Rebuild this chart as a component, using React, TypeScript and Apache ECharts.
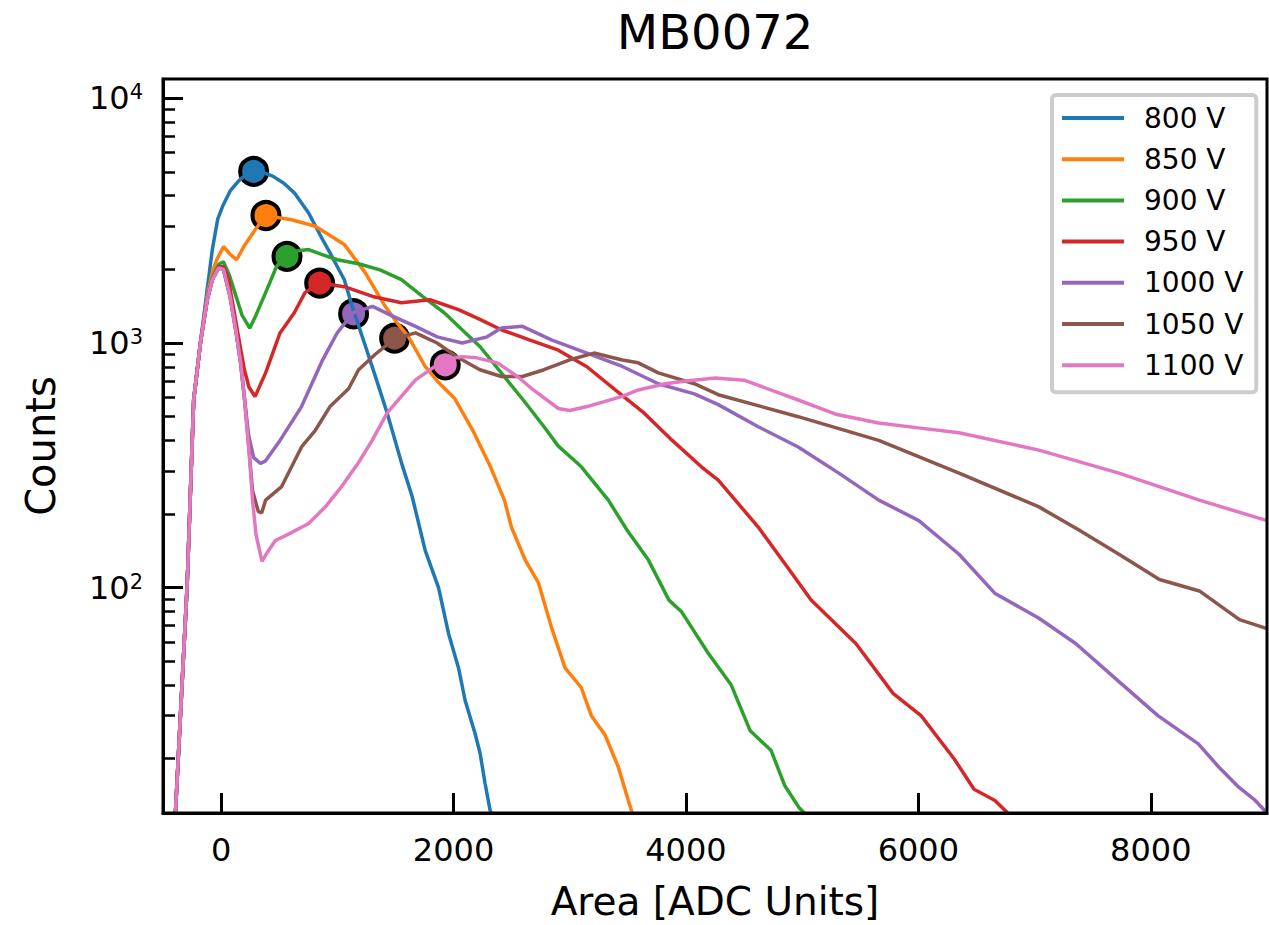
import React, { useEffect, useRef } from "react";
import * as echarts from "echarts";

const FONT = "'DejaVu Sans', sans-serif";

const voltages = ["800 V", "850 V", "900 V", "950 V", "1000 V", "1050 V", "1100 V"];
const colors = ["#1f77b4", "#ff7f0e", "#2ca02c", "#d62728", "#9467bd", "#8c564b", "#e377c2"];

const s800: [number, number][] = [
  [-440, 6], [-393, 12], [-350, 30], [-293, 100], [-236, 585], [-178, 1000], [-120, 1650], [-76, 2400],
  [-30, 3200], [14, 3630], [80, 4200], [151, 4600], [220, 4900], [280, 5030], [360, 4980], [444, 4810],
  [540, 4500], [630, 4110], [753, 3400], [873, 2650], [937, 2336], [1060, 1815], [1137, 1370], [1243, 968],
  [1337, 707], [1429, 518], [1553, 323], [1644, 236], [1756, 142], [1871, 100], [1957, 65], [2043, 47],
  [2100, 34.6], [2186, 25.3], [2229, 21], [2272, 15.8], [2315, 12.3], [2400, 10],
];
const s850: [number, number][] = [
  [-440, 6], [-393, 12], [-350, 30], [-293, 100], [-236, 585], [-178, 1000], [-120, 1550], [-76, 1950],
  [-38, 2190], [22, 2480], [80, 2300], [134, 2190], [200, 2500], [295, 2910], [383, 3320], [500, 3250],
  [607, 3190], [811, 3000], [1060, 2530], [1241, 1935], [1412, 1413], [1520, 1200], [1613, 1060], [1756, 802],
  [1859, 700], [2008, 595], [2163, 442], [2318, 312], [2438, 228], [2498, 177], [2616, 130], [2730, 105],
  [2842, 69], [2960, 47], [3100, 39], [3186, 30], [3304, 25], [3418, 18.5], [3504, 13.5], [3590, 10],
];
const s900: [number, number][] = [
  [-440, 6], [-393, 12], [-350, 30], [-293, 100], [-236, 585], [-178, 1000], [-120, 1500], [-76, 1850],
  [-20, 2100], [20, 2150], [70, 1900], [120, 1600], [180, 1300], [246, 1150], [300, 1300], [383, 1607],
  [477, 2055], [554, 2260], [650, 2380], [753, 2410], [870, 2300], [999, 2190], [1183, 2110], [1367, 1990],
  [1552, 1815], [1733, 1550], [1920, 1330], [2103, 1100], [2227, 968], [2411, 755], [2600, 585], [2779, 455],
  [2900, 380], [3100, 312], [3332, 228], [3500, 170], [3676, 130], [3854, 89], [3960, 80], [4192, 54],
  [4390, 40], [4553, 26], [4733, 21.6], [4851, 15.5], [4974, 12.6], [5100, 11], [5300, 10],
];
const s950: [number, number][] = [
  [-440, 6], [-393, 12], [-350, 30], [-293, 100], [-236, 585], [-178, 1000], [-120, 1500], [-76, 1815],
  [-20, 2050], [20, 2050], [60, 1850], [100, 1450], [151, 1050], [200, 780], [240, 660], [292, 604],
  [383, 755], [507, 1100], [630, 1330], [722, 1607], [845, 1758], [1060, 1700], [1303, 1550], [1552, 1460],
  [1797, 1503], [2043, 1370], [2227, 1250], [2411, 1133], [2653, 1030], [2902, 935], [3148, 800], [3392, 643],
  [3639, 518], [3882, 400], [4133, 312], [4278, 275], [4622, 177], [4880, 120], [5077, 89], [5464, 59],
  [5782, 37], [6023, 30], [6307, 20], [6479, 15], [6659, 13.5], [6850, 11], [7003, 10],
];
const s1000: [number, number][] = [
  [-440, 6], [-393, 12], [-350, 30], [-293, 100], [-236, 585], [-178, 1000], [-120, 1500], [-76, 1815],
  [-20, 2030], [20, 2000], [77, 1550], [130, 1100], [168, 830], [200, 600], [237, 420], [280, 340],
  [338, 322], [383, 330], [507, 400], [692, 550], [873, 852], [999, 1100], [1137, 1330], [1303, 1413],
  [1490, 1280], [1673, 1170], [1859, 1060], [2074, 1000], [2289, 1060], [2411, 1153], [2593, 1170], [2842, 1030],
  [3148, 910], [3453, 802], [3762, 682], [4072, 620], [4278, 560], [4622, 455], [4966, 376], [5315, 294],
  [5659, 228], [6004, 188], [6350, 137], [6657, 95], [7038, 75], [7356, 59], [7709, 42], [8061, 30],
  [8409, 23], [8585, 18.5], [8757, 15.3], [8899, 13.5], [9000, 12],
];
const s1050: [number, number][] = [
  [-440, 6], [-393, 12], [-350, 30], [-293, 100], [-236, 585], [-178, 1000], [-120, 1500], [-76, 1815],
  [-20, 2030], [20, 2000], [77, 1550], [130, 1100], [168, 830], [200, 600], [237, 380], [270, 250],
  [320, 205], [349, 202], [383, 228], [521, 259], [692, 376], [811, 440], [937, 550], [1097, 650],
  [1183, 778], [1327, 900], [1490, 1040], [1673, 1100], [1859, 1000], [2043, 870], [2227, 778], [2411, 730],
  [2593, 730], [2779, 778], [2994, 852], [3209, 910], [3453, 852], [3590, 830], [3762, 755], [4072, 682],
  [4278, 615], [4966, 500], [5659, 400], [6350, 294], [7038, 214], [7382, 172], [7726, 137], [8074, 108],
  [8418, 97], [8763, 74], [9000, 68],
];
const s1100: [number, number][] = [
  [-440, 6], [-393, 12], [-350, 30], [-293, 100], [-236, 585], [-178, 1000], [-120, 1500], [-76, 1815],
  [-20, 2030], [20, 2000], [77, 1550], [130, 1100], [168, 830], [200, 600], [237, 380], [270, 230],
  [300, 165], [352, 128], [400, 140], [467, 156], [607, 168], [753, 183], [897, 214], [1037, 259],
  [1183, 325], [1300, 400], [1429, 518], [1673, 707], [1920, 852], [2074, 880], [2200, 870], [2378, 830],
  [2550, 730], [2687, 643], [2902, 540], [3000, 530], [3148, 550], [3453, 605], [3590, 643], [3822, 682],
  [4000, 700], [4252, 720], [4500, 705], [4966, 585], [5300, 510], [5659, 471], [6000, 450], [6350, 430],
  [7038, 365], [7726, 294], [8418, 228], [9000, 188],
];

const peakX = [280, 386, 567, 848, 1140, 1493, 1929];
const peakY = [5030, 3320, 2260, 1758, 1317, 1047, 815];

const xTickValues = [0, 2000, 4000, 6000, 8000];
const yMajorTicks = [100, 1000, 10000];
const yMinorTicks = [
  20, 30, 40, 50, 60, 70, 80, 90,
  200, 300, 400, 500, 600, 700, 800, 900,
  2000, 3000, 4000, 5000, 6000, 7000, 8000, 9000,
];

export default function App() {
  const ref = useRef<HTMLDivElement>(null);

  useEffect(() => {
    if (!ref.current) return;
    const chart = echarts.init(ref.current, null, { renderer: "svg" });
    const allData = [s800, s850, s900, s950, s1000, s1050, s1100];

    const series: any[] = [];
    allData.forEach((_, i) => {
      series.push({
        type: "scatter",
        name: voltages[i] + " peak",
        data: [[peakX[i], peakY[i]]],
        symbolSize: 27,
        itemStyle: { color: colors[i], borderColor: "#000", borderWidth: 4, opacity: 1 },
        z: 1,
        silent: true,
      });
    });
    allData.forEach((d, i) => {
      series.push({
        type: "line",
        name: voltages[i],
        data: d,
        showSymbol: false,
        symbol: "none",
        lineStyle: { width: 3.5, color: colors[i] },
        itemStyle: { color: colors[i] },
        z: 2 + i,
        silent: true,
      });
    });

    chart.setOption({
      animation: false,
      backgroundColor: "#fff",
      title: {
        text: "MB0072",
        left: 710,
        top: 3,
        textAlign: "center",
        textStyle: { fontSize: 48, fontWeight: "normal", fontFamily: FONT, color: "#000" },
      },
      grid: {
        left: 163,
        top: 79,
        width: 1104,
        height: 734,
        show: true,
        borderColor: "#000",
        borderWidth: 3,
        backgroundColor: "transparent",
        containLabel: false,
        outerBoundsMode: "none",
        z: 20,
      },
      legend: {
        orient: "vertical",
        left: 1052,
        top: 95,
        data: voltages,
        icon: "rect",
        itemWidth: 62,
        itemHeight: 4,
        itemGap: 13.2,
        padding: [9, 13, 13, 10],
        borderColor: "#cccccc",
        borderWidth: 4,
        borderRadius: 4,
        backgroundColor: "#fff",
        selectedMode: false,
        textStyle: { fontSize: 28, fontFamily: FONT, color: "#000", lineHeight: 28, padding: [0, 0, 0, 15] },
        z: 25,
      },
      xAxis: {
        type: "value",
        min: -500,
        max: 9000,
        position: "bottom",
        name: "Area [ADC Units]",
        nameLocation: "middle",
        nameGap: 69,
        nameTextStyle: { fontSize: 39, lineHeight: 39, fontFamily: FONT, color: "#000" },
        axisLine: { show: true, onZero: false, lineStyle: { color: "#000", width: 3 } },
        axisTick: {
          show: true,
          inside: true,
          length: 20,
          customValues: xTickValues,
          lineStyle: { color: "#000", width: 3 },
        },
        axisLabel: {
          customValues: xTickValues,
          fontSize: 32,
          fontFamily: FONT,
          color: "#000",
          margin: 21,
          formatter: (v: number) => String(v),
        },
        splitLine: { show: false },
        z: 20,
      },
      yAxis: [
        {
          type: "log",
          logBase: 10,
          min: 12,
          max: 12000,
          position: "left",
          name: "Counts",
          nameLocation: "middle",
          nameGap: 102,
          nameRotate: 90,
          nameTextStyle: { fontSize: 40, fontFamily: FONT, color: "#000" },
          axisLine: { show: true, onZero: false, lineStyle: { color: "#000", width: 3 } },
          axisTick: {
            show: true,
            inside: true,
            length: 20,
            customValues: yMajorTicks,
            lineStyle: { color: "#000", width: 3 },
          },
          axisLabel: {
            customValues: yMajorTicks,
            margin: 20,
            color: "#000",
            fontFamily: FONT,
            formatter: (v: number) => `{b|10}{s|${Math.round(Math.log10(v))}}`,
            rich: {
              b: { fontSize: 32, fontFamily: FONT, color: "#000" },
              s: { fontSize: 21, fontFamily: FONT, color: "#000", padding: [0, 0, 12, 0] },
            },
          },
          splitLine: { show: false },
          z: 20,
        },
        {
          type: "log",
          logBase: 10,
          min: 12,
          max: 12000,
          position: "left",
          offset: 0,
          axisLine: { show: false, onZero: false },
          axisLabel: { show: false },
          splitLine: { show: false },
          axisTick: {
            show: true,
            inside: true,
            length: 12,
            customValues: yMinorTicks,
            lineStyle: { color: "#000", width: 2.5 },
          },
          z: 20,
        },
      ],
      series,
    });

    return () => {
      chart.dispose();
    };
  }, []);

  return (
    <div
      ref={ref}
      style={{ position: "fixed", left: 0, top: 0, width: 1269, height: 925, background: "#fff" }}
    />
  );
}
